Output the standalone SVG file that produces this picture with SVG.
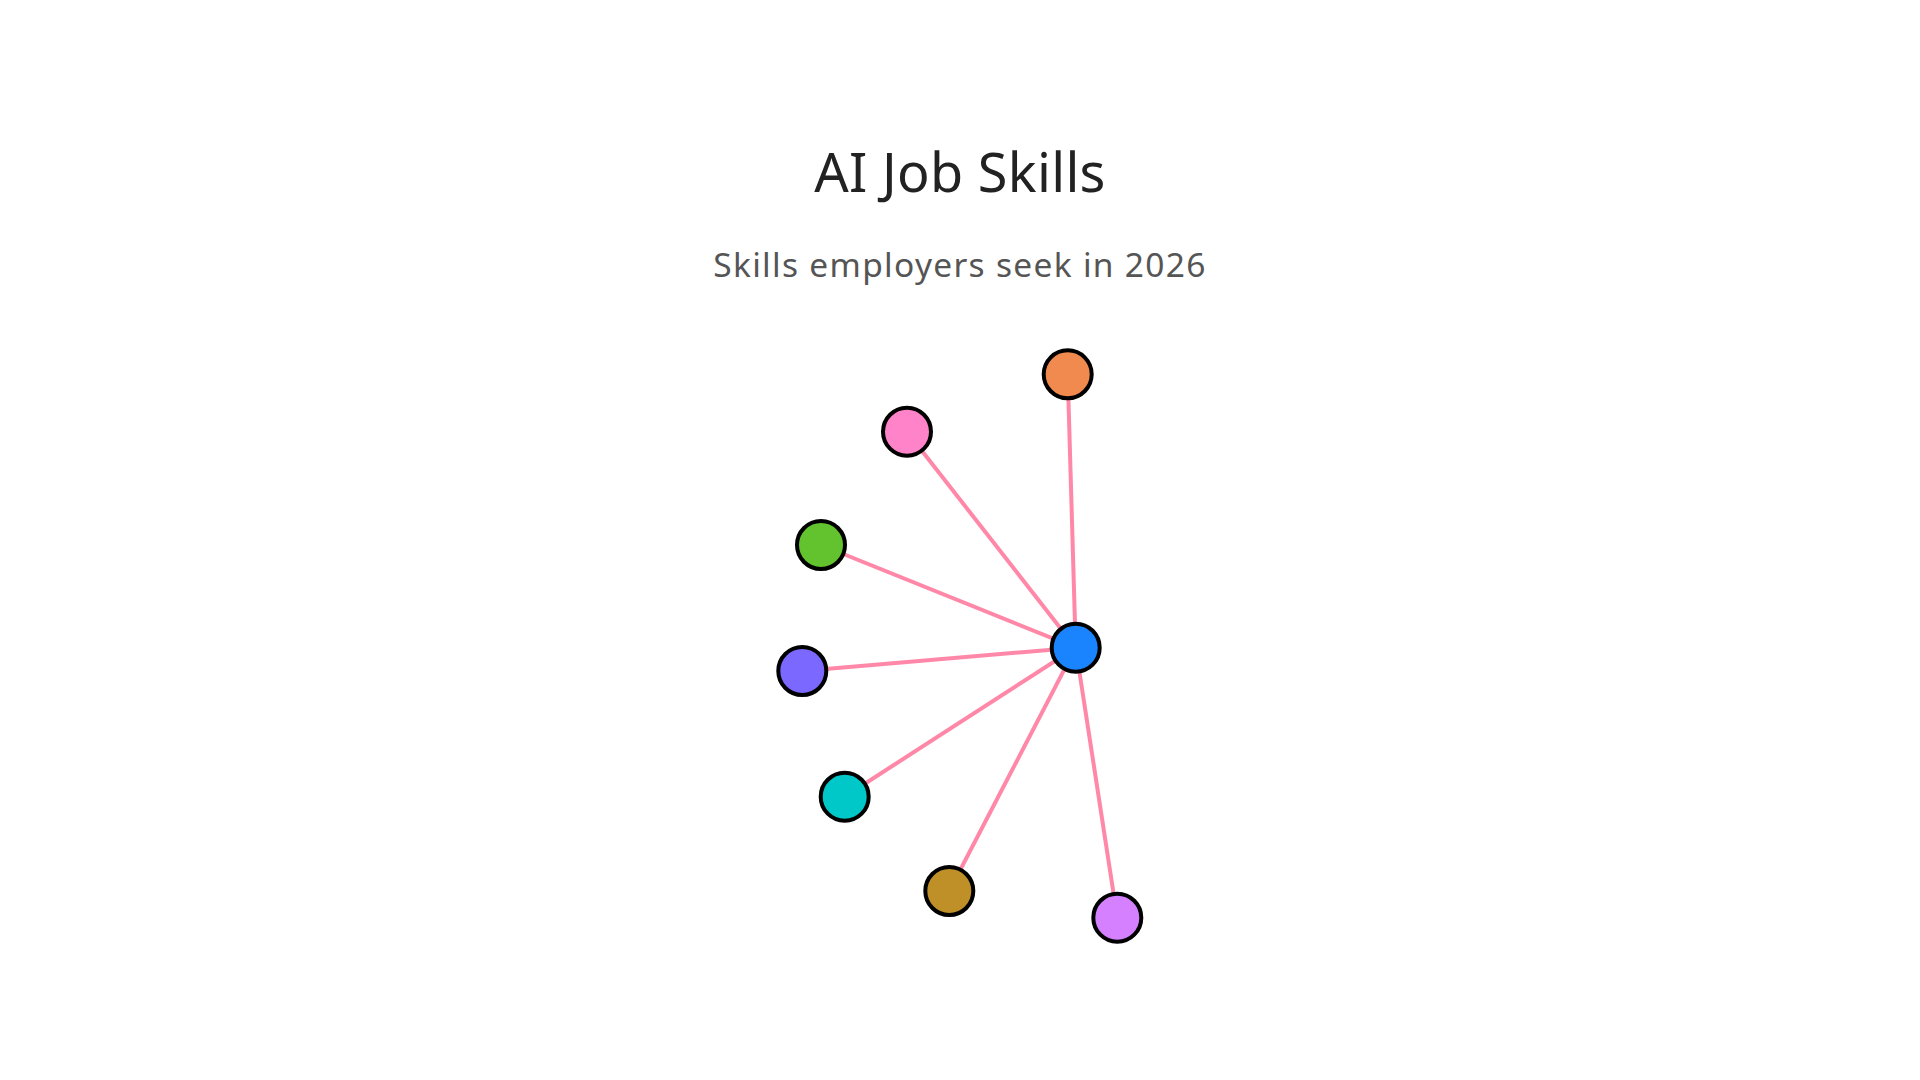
<svg xmlns="http://www.w3.org/2000/svg" width="1920" height="1080" viewBox="0 0 1920 1080">
<style>
.title{font-family:"Noto Sans","Open Sans",sans-serif;font-size:54px;fill:#222;text-anchor:middle}
.sub{font-family:"Noto Sans","Open Sans",sans-serif;font-size:33.5px;fill:#555;text-anchor:middle;letter-spacing:1.3px}
.edge{stroke:#FF88A8;stroke-width:4;fill:none}
.node{stroke:#000;stroke-width:4}
</style>
<rect width="1920" height="1080" fill="#fff"/>
<text class="title" x="960" y="191.5" letter-spacing="0.3">AI Job Skills</text>
<text class="sub" x="960" y="277">Skills employers seek in 2026</text>
<g id="connectors">
<line class="edge" x1="1075.7" y1="647.7" x2="1067.7" y2="374.3"/>
<line class="edge" x1="1075.7" y1="647.7" x2="907" y2="431.7"/>
<line class="edge" x1="1075.7" y1="647.7" x2="821" y2="545"/>
<line class="edge" x1="1075.7" y1="647.7" x2="802.3" y2="671"/>
<line class="edge" x1="1075.7" y1="647.7" x2="844.7" y2="796.7"/>
<line class="edge" x1="1075.7" y1="647.7" x2="949.3" y2="891"/>
<line class="edge" x1="1075.7" y1="647.7" x2="1117.3" y2="917.7"/>
</g>
<g id="node-center"><circle class="node" cx="1075.7" cy="647.7" r="24" fill="#1A84FF"/></g>
<g id="node-1"><circle class="node" cx="1067.7" cy="374.3" r="24" fill="#F08A4F"/></g>
<g id="node-2"><circle class="node" cx="907" cy="431.7" r="24" fill="#FF83C8"/></g>
<g id="node-3"><circle class="node" cx="821" cy="545" r="24" fill="#62C32F"/></g>
<g id="node-4"><circle class="node" cx="802.3" cy="671" r="24" fill="#7B68FF"/></g>
<g id="node-5"><circle class="node" cx="844.7" cy="796.7" r="24" fill="#00C8C8"/></g>
<g id="node-6"><circle class="node" cx="949.3" cy="891" r="24" fill="#BF9028"/></g>
<g id="node-7"><circle class="node" cx="1117.3" cy="917.7" r="24" fill="#D580FF"/></g>
</svg>
